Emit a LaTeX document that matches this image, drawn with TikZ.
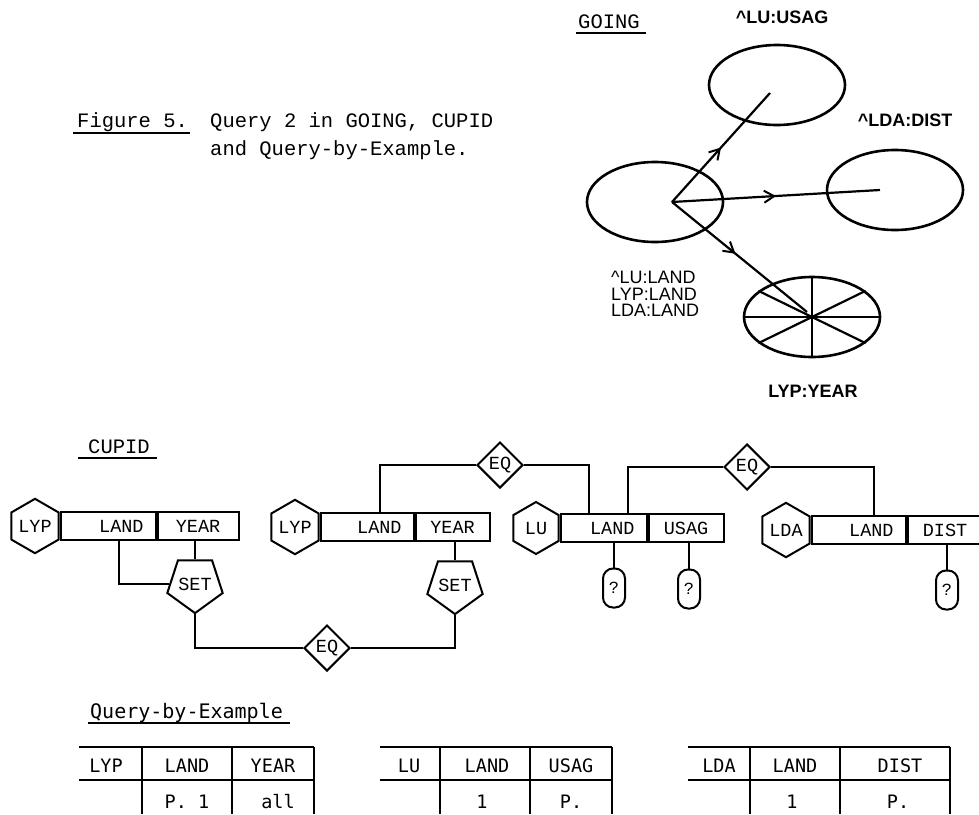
\documentclass[tikz,border=0pt]{standalone}
\usepackage{fontspec}
\setmainfont{Liberation Serif}
\newfontfamily\typefont{Liberation Mono}
\newfontfamily\plotfont{Liberation Sans}
\newfontfamily\qbefont{DejaVu Sans Mono}
\usetikzlibrary{shapes.geometric, arrows.meta, positioning, decorations.markings}

\begin{document}
\begin{tikzpicture}[x=1pt, y=-1pt,
  cupidtxt/.style={font=\fontsize{18.5}{18.5}\typefont},
  rel/.style={regular polygon, regular polygon sides=6, shape border rotate=90, draw, line width=2pt, minimum size=52pt, inner sep=0pt, cupidtxt},
  field/.style={draw, line width=2pt, minimum height=28pt, minimum width=#1, inner sep=0pt, cupidtxt},
  keyfield/.style={draw, line width=2pt, minimum height=28pt, text width=#1, align=right, inner xsep=12pt, inner ysep=0pt, cupidtxt},
  setop/.style={regular polygon, regular polygon sides=5, shape border rotate=180, draw, line width=2pt, minimum size=57pt, inner sep=0pt, cupidtxt},
  eqop/.style={diamond, draw, line width=2pt, minimum width=46pt, minimum height=46pt, inner sep=0pt, cupidtxt},
  ask/.style={draw, line width=2pt, rounded corners=10pt, minimum width=22pt, minimum height=39pt, inner sep=0pt, font=\fontsize{17}{17}\typefont},
  wire/.style={line width=2pt},
  heading/.style={anchor=base west, inner sep=0pt, font=\fontsize{20.5}{20.5}\typefont},
  uline/.style={line width=1.8pt},
  blob/.style={ellipse, draw, line width=2.6pt, minimum width=136pt, minimum height=80pt, inner sep=0pt},
  flow/.style={line width=2.2pt, postaction={decorate}, decoration={markings, mark=at position #1 with {\arrow{Straight Barb[length=10pt, width=12pt, line width=2pt]}}}},
  flow/.default=0.5,
  plotlbl/.style={inner sep=0pt, font=\fontsize{18}{18}\plotfont\bfseries},
  qbetxt/.style={anchor=base, inner sep=0pt, font=\fontsize{18.5}{18.5}\qbefont},
  rule/.style={line width=2.2pt},
  vrule/.style={line width=1.7pt}
]
\useasboundingbox (0,0) rectangle (979,814);

% caption
\node[heading] (fignum) at (77,127) {Figure 5.};
\node[heading] (capa) at (210,127) {Query 2 in GOING, CUPID};
\node[heading] (capb) at (210,155) {and Query-by-Example.};
\draw[uline] ([shift={(-4,6)}]fignum.base west) -- ([shift={(2,6)}]fignum.base east);

% GOING
\node[heading] (going) at (578,28) {GOING};
\draw[uline] ([shift={(-2,5)}]going.base west) -- ([shift={(6,5)}]going.base east);

\node[blob] (usagblob) at (777,85) {};
\node[blob] (distblob) at (895,190) {};
\node[blob] (landblob) at (655,202) {};
\node[blob] (yearblob) at (812,317) {};
\foreach \a in {0,26,90,154}
  \draw[line width=2.2pt] (yearblob.\a) -- (yearblob.\a+180);

\coordinate (hub) at (672,202);
\coordinate (usagend) at (770,93);
\coordinate (distend) at (880,190);
\coordinate (yearend) at (807,312);
\draw[flow] (hub) -- (usagend);
\draw[flow] (hub) -- (distend);
\draw[flow=0.47] (hub) -- (yearend);

\node[plotlbl] (usaglbl) at (782,17) {\textasciicircum LU:USAG};
\node[plotlbl] (distlbl) at (905,120) {\textasciicircum LDA:DIST};
\node[plotlbl] (yearlbl) at (813,391) {LYP:YEAR};
\node[inner sep=0pt, anchor=north west, align=left, font=\fontsize{18}{16.5}\plotfont] (landlbl) at (611,271)
  {\textasciicircum LU:LAND\\LYP:LAND\\LDA:LAND};

% CUPID
\node[heading] (cupid) at (88,453) {CUPID};
\draw[uline] ([shift={(-10,5)}]cupid.base west) -- ([shift={(7,5)}]cupid.base east);

\node[rel] (lyp1) at (35,526) {LYP};
\node[keyfield=71pt, right=0pt of lyp1] (land1) {LAND};
\node[field=81pt, right=0pt of land1] (year1) {YEAR};

\node[rel] (lyp2) at (295,527) {LYP};
\node[keyfield=69pt, right=0pt of lyp2] (land2) {LAND};
\node[field=74pt, right=0pt of land2] (year2) {YEAR};

\node[rel] (lu) at (536,528) {LU};
\node[keyfield=62pt, right=0pt of lu] (land3) {LAND};
\node[field=75pt, right=0pt of land3] (usag) {USAG};

\node[rel] (lda) at (786,530) {LDA};
\node[keyfield=70pt, right=0pt of lda] (land4) {LAND};
\node[field=75pt, right=0pt of land4] (dist) {DIST};

\node[setop] (set1) at (195,584) {SET};
\node[setop] (set2) at (455,585) {SET};
\node[eqop] (eq1) at (500,465) {EQ};
\node[eqop] (eq2) at (747,467) {EQ};
\node[eqop] (eq3) at (327,648) {EQ};

\node[ask] (q1) at (614,588) {?};
\node[ask] (q2) at (689,589) {?};
\node[ask] (q3) at (947,590) {?};

\draw[wire] ([xshift=11pt]land1.south) |- (set1.west);
\draw[wire] (set1.north |- year1.south) -- (set1.north);
\draw[wire] (set1.south) |- (eq3.west);
\draw[wire] (eq3.east) -| (set2.south);
\draw[wire] (set2.north) -- (set2.north |- year2.south);
\draw[wire] ([xshift=13pt]land2.north) |- (eq1.west);
\draw[wire] (eq1.east) -| ([xshift=-15pt]land3.north);
\draw[wire] ([xshift=24pt]land3.north) |- (eq2.west);
\draw[wire] (eq2.east) -| ([xshift=15pt]land4.north);
\draw[wire] (q1.north |- land3.south) -- (q1.north);
\draw[wire] (q2.north |- usag.south) -- (q2.north);
\draw[wire] (q3.north |- dist.south) -- (q3.north);

% Query-by-Example
\node[heading, font=\fontsize{20}{20}\qbefont] (qbe) at (90,718) {Query-by-Example};
\draw[uline] ([shift={(-2,5)}]qbe.base west) -- ([shift={(7,5)}]qbe.base east);

\foreach \l/\a/\b/\r in {79/142/232/314, 380/440/530/612, 688/750/840/950} {
  \draw[rule] (\l,747) -- (\r,747) (\l,780) -- (\r,780);
  \draw[vrule] (\a,747) -- (\a,814) (\b,747) -- (\b,814) (\r,747) -- (\r,814);
}
\node[qbetxt] (lypcol) at (106,772) {LYP};
\node[qbetxt] (landcola) at (187,772) {LAND};
\node[qbetxt] (yearcol) at (273,772) {YEAR};
\node[qbetxt] (landvala) at (187,808) {P. 1};
\node[qbetxt] (yearval) at (278,808) {all};

\node[qbetxt] (lucol) at (409,772) {LU};
\node[qbetxt] (landcolb) at (487,772) {LAND};
\node[qbetxt] (usagcol) at (571,772) {USAG};
\node[qbetxt] (landvalb) at (482,808) {1};
\node[qbetxt] (usagval) at (571,808) {P.};

\node[qbetxt] (ldacol) at (719,772) {LDA};
\node[qbetxt] (landcolc) at (795,772) {LAND};
\node[qbetxt] (distcol) at (900,772) {DIST};
\node[qbetxt] (landvalc) at (792,808) {1};
\node[qbetxt] (distval) at (898,808) {P.};
\end{tikzpicture}
\end{document}
